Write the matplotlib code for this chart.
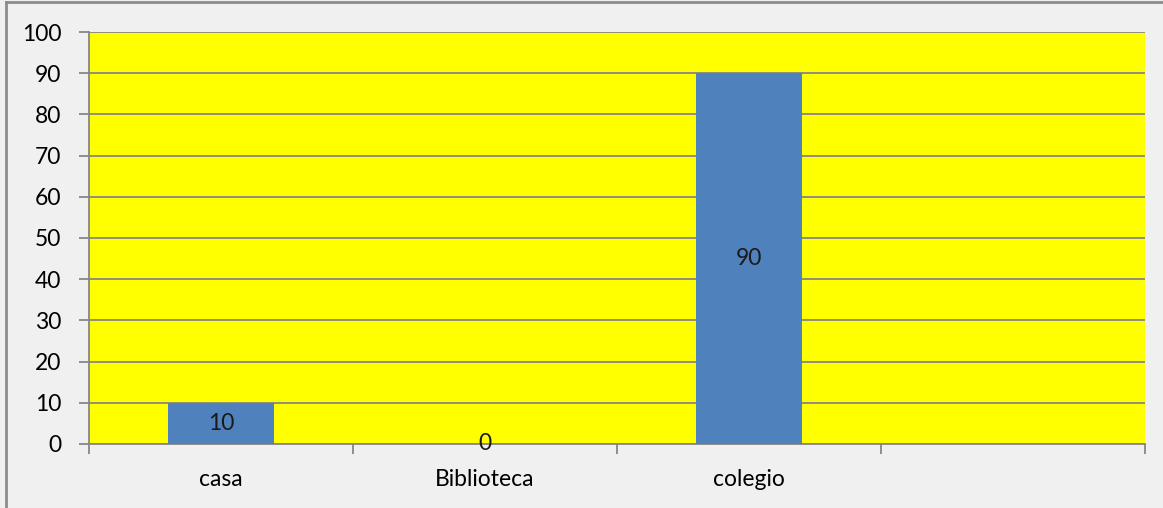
import numpy as np
import matplotlib.pyplot as plt

# data
categories = ['casa', 'Biblioteca', 'colegio', '']
values = [10, 0, 90, None]
yticks = [0, 10, 20, 30, 40, 50, 60, 70, 80, 90, 100]

plt.rcParams['font.family'] = ['Lato', 'DejaVu Sans']

fig = plt.figure(figsize=(11.63, 5.08), dpi=100)
fig.patch.set_facecolor('#f0f0f0')
# chart border (left and top visible only)
fig.add_artist(plt.Line2D([0.0055, 0.0055], [0, 0.997], transform=fig.transFigure, color='#8c8c8c', lw=2))
fig.add_artist(plt.Line2D([0.0055, 1], [0.997, 0.997], transform=fig.transFigure, color='#8c8c8c', lw=2))

ax = fig.add_axes([0.0765, 0.126, 0.908, 0.811])
ax.set_facecolor('#ffff00')

fs = 16.5
x = np.arange(len(categories))
for xi, v in zip(x, values):
    if v is None:
        continue
    ax.bar(xi, v, width=0.4, color='#4f81bd', zorder=3)
    ax.text(xi, v / 2, str(v), ha='center', va='center', fontsize=fs, color='#1a1a1a', zorder=4)

ax.set_xlim(-0.5, len(categories) - 0.5)
ax.set_ylim(0, 100)
ax.set_yticks(yticks)
ax.yaxis.grid(True, color='#868686', lw=1.3, zorder=1)
ax.set_axisbelow(True)

ax.set_xticks(x)
ax.set_xticklabels(categories, fontsize=fs)
ax.tick_params(axis='x', length=0, pad=18)
ax.set_xticks(np.arange(-0.5, len(categories)), minor=True)
ax.tick_params(axis='x', which='minor', length=7, width=1.3, color='#868686')
ax.tick_params(axis='y', length=7, width=1.3, color='#868686', labelsize=fs, pad=13)

for s in ['top', 'right']:
    ax.spines[s].set_visible(False)
for s in ['left', 'bottom']:
    ax.spines[s].set_color('#868686')
    ax.spines[s].set_linewidth(1.3)

fig.savefig('out.png', dpi=100, facecolor=fig.get_facecolor())
